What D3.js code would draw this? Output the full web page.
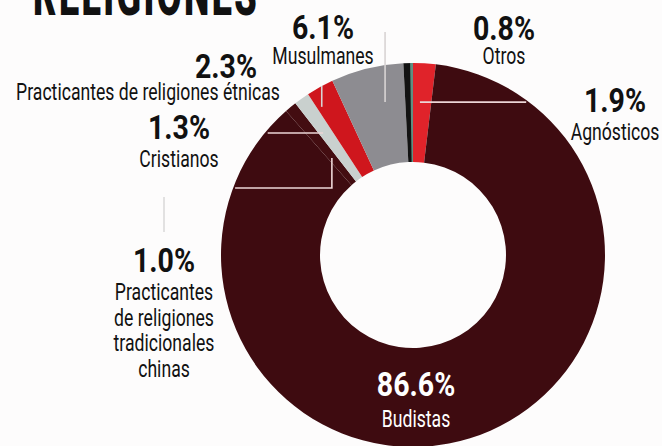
<!DOCTYPE html>
<html>
<head>
<meta charset="utf-8">
<script src="https://cdn.jsdelivr.net/npm/d3@7"></script>
<style>
  html, body { margin: 0; padding: 0; background: #fdfcfc; }
  svg { display: block; }
</style>
</head>
<body>
<div id="chart"></div>
<script>
// ---------------- DATA ----------------
const title = "RELIGIONES";
const categories = [
  "Agnósticos",
  "Budistas",
  "Practicantes de religiones tradicionales chinas",
  "Cristianos",
  "Practicantes de religiones étnicas",
  "Musulmanes",
  "Otros"
];
const values = [1.9, 86.6, 1.0, 1.3, 2.3, 6.1, 0.8];
const labelLines = [
  ["Agnósticos"],
  ["Budistas"],
  ["Practicantes", "de religiones", "tradicionales", "chinas"],
  ["Cristianos"],
  ["Practicantes de religiones étnicas"],
  ["Musulmanes"],
  ["Otros"]
];
const colors = ["#e0232a", "#3e0b10", "#430d11", "#c9d0ce", "#cf161d", "#8d8c91", "#121212"];

// ---------------- LAYOUT ----------------
const W = 662, H = 446;
const cx = 413, cy = 255, outerR = 192, innerR = 93;
const NUM_SIZE = 34, LABEL_SIZE = 23.5, NUM_K = 0.84, LABEL_K = 0.75;
const FONT = "Roboto, 'Open Sans', sans-serif";
// label placement: center x, number baseline, first label baseline, line gap, optional number x, text colour
const labelLayout = [
  { x: 615, numY: 112, y0: 140, gap: 26 },
  { x: 416, numY: 396, y0: 427, gap: 26, fill: "#ffffff" },
  { x: 164, numY: 272, y0: 300, gap: 25.7 },
  { x: 179, numY: 139, y0: 167, gap: 26 },
  { x: 148, numX: 226, numY: 78, y0: 100, gap: 26 },
  { x: 323, numY: 39, y0: 64, gap: 26 },
  { x: 504, numY: 40, y0: 64, gap: 26 }
];
// leader anchors: fraction across slice, radius, then direction
const leaders = [
  { i: 0, frac: 0.38, r: 153, kind: "right" },
  { i: 5, frac: 0.66, r: 155.5, kind: "up", toY: 32 },
  { i: 4, frac: 0.18, r: 174, kind: "up", toY: 86 },
  { i: 3, frac: 0.30, r: 151.5, kind: "left" },
  { i: 2, frac: 0.42, r: 126.5, kind: "downLeft", drop: 30 }
];

// ---------------- DRAW ----------------
const svg = d3.select("#chart").append("svg")
  .attr("width", W).attr("height", H)
  .attr("viewBox", `0 0 ${W} ${H}`);

svg.append("rect").attr("width", W).attr("height", H).attr("fill", "#fdfcfc");

const pie = d3.pie().sort(null).value(d => d)(values);
const arc = d3.arc().innerRadius(innerR).outerRadius(outerR);

const g = svg.append("g").attr("transform", `translate(${cx},${cy})`);
g.selectAll("path.slice").data(pie).join("path")
  .attr("class", "slice")
  .attr("d", arc)
  .attr("fill", (d, i) => colors[i]);

// thin teal sliver edge on "Otros"
const otros = pie[6];
g.append("path")
  .attr("d", d3.arc().innerRadius(innerR).outerRadius(outerR)
    .startAngle(otros.endAngle - (otros.endAngle - otros.startAngle) * 0.3)
    .endAngle(otros.endAngle)())
  .attr("fill", "#5f8f82");

// leader lines
const polar = (a, r) => [cx + r * Math.sin(a), cy - r * Math.cos(a)];
const edgeX = (y, side) => cx + side * Math.sqrt(outerR * outerR - (y - cy) * (y - cy));
const lineG = svg.append("g").attr("fill", "none").attr("stroke-width", 1.6);
leaders.forEach(L => {
  const s = pie[L.i];
  const a = s.startAngle + (s.endAngle - s.startAngle) * L.frac;
  const [x0, y0] = polar(a, L.r);
  let pts;
  if (L.kind === "right") pts = [[x0, y0], [edgeX(y0, 1) - 3, y0]];
  else if (L.kind === "left") pts = [[x0, y0], [edgeX(y0, -1) + 3, y0]];
  else if (L.kind === "up") pts = [[x0, y0], [x0, L.toY]];
  else pts = [[x0, y0], [x0, y0 + L.drop], [edgeX(y0 + L.drop, -1) + 2, y0 + L.drop]];
  lineG.append("path").attr("d", d3.line()(pts))
    .attr("stroke", L.kind === "up" ? "#d8d4d4" : "#ecd6d6");
});
// short tick above the "1.0%" label
const tc = labelLayout[2];
svg.append("line")
  .attr("x1", tc.x).attr("x2", tc.x)
  .attr("y1", tc.numY - 75).attr("y2", tc.numY - 40)
  .attr("stroke", "#d6d6d6").attr("stroke-width", 1.4);

// squeezed (condensed) text helper
function ctext(parent, str, x, y, size, weight, k, fill) {
  parent.append("g").attr("transform", `translate(${x},${y}) scale(${k},1)`)
    .append("text")
    .attr("text-anchor", "middle")
    .attr("font-family", FONT)
    .attr("font-size", size)
    .attr("font-weight", weight)
    .attr("fill", fill)
    .text(str);
}

const fmt = d => d3.format(".1f")(d) + "%";
const labG = svg.append("g");
values.forEach((v, i) => {
  const L = labelLayout[i];
  const fill = L.fill || "#111111";
  ctext(labG, fmt(v), L.numX != null ? L.numX : L.x, L.numY, NUM_SIZE, 700, NUM_K, fill);
  labelLines[i].forEach((t, j) => {
    ctext(labG, t, L.x, L.y0 + j * L.gap, LABEL_SIZE, 400, LABEL_K, fill);
  });
});

// title (cut off at top, as in the reference)
svg.append("g").attr("transform", `translate(33,15) scale(0.6,1)`)
  .append("text")
  .attr("font-family", FONT)
  .attr("font-size", 60)
  .attr("font-weight", 900)
  .attr("letter-spacing", 4)
  .attr("fill", "#111111")
  .text(title);
</script>
</body>
</html>
